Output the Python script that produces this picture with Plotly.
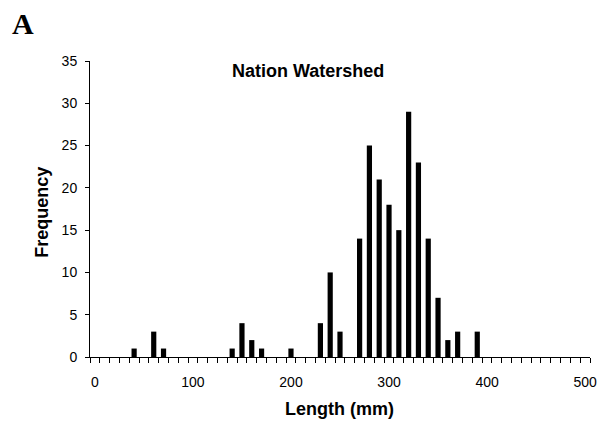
import plotly.graph_objects as go

lengths = [40, 60, 70, 140, 150, 160, 170, 200, 230, 240, 250, 270, 280, 290,
           300, 310, 320, 330, 340, 350, 360, 370, 390]
frequency = [1, 3, 1, 1, 4, 2, 1, 1, 4, 10, 3, 14, 25, 21,
             18, 15, 29, 23, 14, 7, 2, 3, 3]
x_tick_vals = [0, 100, 200, 300, 400, 500]
y_tick_vals = [0, 5, 10, 15, 20, 25, 30, 35]

fig = go.Figure()
fig.add_trace(go.Bar(x=lengths, y=frequency, width=5.3,
                     marker=dict(color="black", line=dict(width=0))))

font = "Liberation Sans, Arial, sans-serif"
L, R, T, B = 90, 597, 61, 357
W, H = R - L, B - T


def px(x):
    return (x - L) / W


def py(y):
    return (B - y) / H


fig.update_layout(
    width=607, height=423,
    margin=dict(l=L, r=607 - R, t=T, b=423 - B),
    plot_bgcolor="white", paper_bgcolor="white",
    showlegend=False,
    font=dict(family=font, size=14, color="black"),
    xaxis=dict(range=[-5, 505], tickmode="array", tickvals=x_tick_vals,
               ticks="", showline=True, linecolor="black", linewidth=1,
               showgrid=False, zeroline=False, ticklabelstandoff=12,
               minor=dict(tickmode="linear", tick0=-5, dtick=10, ticks="outside",
                          ticklen=5, tickcolor="black", tickwidth=1, showgrid=False),
               tickfont=dict(size=14, family=font, color="black")),
    yaxis=dict(range=[0, 35], tickmode="array", tickvals=y_tick_vals,
               ticks="outside", ticklen=4, tickcolor="black",
               showline=True, linecolor="black", linewidth=1,
               showgrid=False, zeroline=False, ticklabelstandoff=5,
               tickfont=dict(size=14, family=font, color="black")),
    annotations=[
        dict(text="<b>Nation Watershed</b>", x=px(311), y=py(71),
             xref="paper", yref="paper", showarrow=False,
             xanchor="center", yanchor="middle",
             font=dict(size=18, family=font, color="black")),
        dict(text="<b>Frequency</b>", x=px(41), y=py(212),
             xref="paper", yref="paper", showarrow=False, textangle=-90,
             xanchor="center", yanchor="middle",
             font=dict(size=18, family=font, color="black")),
        dict(text="<b>Length (mm)</b>", x=px(343), y=py(409),
             xref="paper", yref="paper", showarrow=False,
             xanchor="center", yanchor="middle",
             font=dict(size=18, family=font, color="black")),
        dict(text="<b>A</b>", x=px(22), y=py(23),
             xref="paper", yref="paper", showarrow=False,
             xanchor="center", yanchor="middle",
             font=dict(size=30, family="Liberation Serif, Times New Roman, serif",
                       color="black")),
    ],
)

fig.write_html("out.html")
